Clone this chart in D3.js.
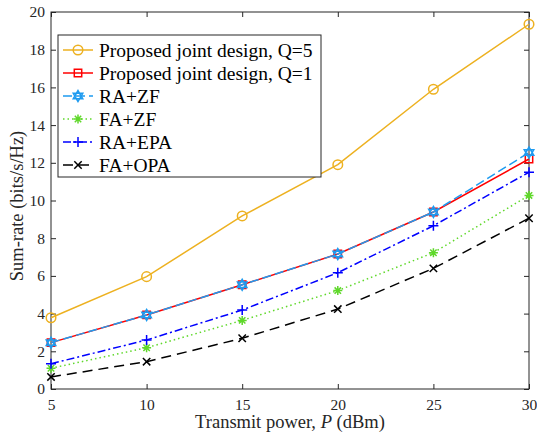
<!DOCTYPE html>
<html lang="en">
<head>
  <meta charset="UTF-8">
  <style>
    body { margin: 0; background: white; }
  </style>
  <title>Sum-rate</title>
  <script src="https://d3js.org/d3.v7.min.js"></script>
</head>
<body>
<svg id="chart"></svg>
<script>

const power = [5, 10, 15, 20, 25, 30];
const jointQ5 = [3.78, 5.96, 9.18, 11.9, 15.9, 19.35];
const jointQ1 = [2.46, 3.93, 5.53, 7.16, 9.39, 12.2];
const raZf = [2.46, 3.93, 5.53, 7.16, 9.39, 12.54];
const faZf = [1.1, 2.19, 3.64, 5.22, 7.23, 10.27];
const raEpa = [1.34, 2.6, 4.19, 6.17, 8.66, 11.5];
const faOpa = [0.64, 1.45, 2.69, 4.24, 6.4, 9.06];
const xTicks = [5, 10, 15, 20, 25, 30];
const yTicks = [0, 2, 4, 6, 8, 10, 12, 14, 16, 18, 20];

const series = [
  {name: 'Proposed joint design, Q=5', values: jointQ5, color: '#EDB120', dash: null, marker: 'circle'},
  {name: 'Proposed joint design, Q=1', values: jointQ1, color: '#FF0000', dash: null, marker: 'square'},
  {name: 'RA+ZF', values: raZf, color: '#1E9BF0', dash: '9,4', marker: 'hexagram'},
  {name: 'FA+ZF', values: faZf, color: '#5FD82A', dash: '1.5,3', marker: 'asterisk'},
  {name: 'RA+EPA', values: raEpa, color: '#0000FF', dash: '8,3,2,3', marker: 'plus'},
  {name: 'FA+OPA', values: faOpa, color: '#000000', dash: '10,6', marker: 'cross'}
];

const serif = '"Liberation Serif", "Times New Roman", Times, serif';
const size = {width: 537, height: 432};
const margin = {top: 12, right: 8, bottom: 43, left: 51};

const svg = d3.select('#chart')
              .attr('width', size.width)
              .attr('height', size.height)
              .style('font-family', serif);

const xScale = d3.scaleLinear()
                 .domain([5, 30])
                 .range([margin.left, size.width - margin.right]);
const yScale = d3.scaleLinear()
                 .domain([0, 20])
                 .range([size.height - margin.bottom, margin.top]);

const axisColor = '#262626';

function styleAxis(g, hideText) {
  g.attr('font-family', null).attr('font-size', null);
  g.select('.domain').remove();
  g.selectAll('.tick line').attr('stroke', axisColor);
  g.selectAll('.tick text')
   .style('font-family', serif)
   .style('font-size', '15.5px')
   .attr('fill', axisColor);
  if (hideText) g.selectAll('.tick text').remove();
}

// axes with inward ticks on all four sides
svg.append('g')
   .attr('transform', 'translate(0,' + yScale(0) + ')')
   .call(d3.axisBottom(xScale).tickValues(xTicks).tickSize(-5).tickPadding(10).tickFormat(d3.format('d')))
   .call(g => styleAxis(g, false));
svg.append('g')
   .attr('transform', 'translate(0,' + yScale(20) + ')')
   .call(d3.axisTop(xScale).tickValues(xTicks).tickSize(-5))
   .call(g => styleAxis(g, true));
svg.append('g')
   .attr('transform', 'translate(' + xScale(5) + ',0)')
   .call(d3.axisLeft(yScale).tickValues(yTicks).tickSize(-5).tickPadding(6).tickFormat(d3.format('d')))
   .call(g => styleAxis(g, false));
svg.append('g')
   .attr('transform', 'translate(' + xScale(30) + ',0)')
   .call(d3.axisRight(yScale).tickValues(yTicks).tickSize(-5))
   .call(g => styleAxis(g, true));

svg.append('rect')
   .attr('x', xScale(5)).attr('y', yScale(20))
   .attr('width', xScale(30) - xScale(5))
   .attr('height', yScale(0) - yScale(20))
   .attr('fill', 'none').attr('stroke', axisColor).attr('stroke-width', 1);

// axis labels
const xLabel = svg.append('text')
   .attr('x', 290)
   .attr('y', 428)
   .attr('text-anchor', 'middle')
   .attr('fill', axisColor)
   .style('font-family', serif)
   .style('font-size', '18.5px');
xLabel.append('tspan').text('Transmit power, ');
xLabel.append('tspan').style('font-style', 'italic').text('P');
xLabel.append('tspan').text(' (dBm)');

svg.append('text')
   .attr('transform', 'translate(23,206) rotate(-90)')
   .attr('text-anchor', 'middle')
   .attr('fill', axisColor)
   .style('font-family', serif)
   .style('font-size', '18.5px')
   .text('Sum-rate (bits/s/Hz)');

function markerPath(type) {
  if (type === 'circle') return d3.symbol(d3.symbolCircle, 72)();
  if (type === 'square') return 'M-3.7,-3.7H3.7V3.7H-3.7Z';
  if (type === 'plus') return 'M-5,0H5M0,-5V5';
  if (type === 'cross') return 'M-3.7,-3.7L3.7,3.7M-3.7,3.7L3.7,-3.7';
  if (type === 'asterisk') return 'M-4.5,0H4.5M0,-4.5V4.5M-3.2,-3.2L3.2,3.2M-3.2,3.2L3.2,-3.2';
  if (type === 'hexagram') {
    const r = 5.5;
    const t1 = d3.range(3).map(i => {
      const a = -Math.PI / 2 + i * 2 * Math.PI / 3;
      return [r * Math.cos(a), r * Math.sin(a)];
    });
    const t2 = d3.range(3).map(i => {
      const a = Math.PI / 2 + i * 2 * Math.PI / 3;
      return [r * Math.cos(a), r * Math.sin(a)];
    });
    return 'M' + t1.join('L') + 'Z' + 'M' + t2.join('L') + 'Z';
  }
}

const line = d3.line()
               .x((d, i) => xScale(power[i]))
               .y(d => yScale(d));

const groups = svg.selectAll('.series')
                  .data(series)
                  .enter()
                  .append('g')
                  .attr('class', 'series');

groups.append('path')
      .attr('d', d => line(d.values))
      .attr('fill', 'none')
      .attr('stroke', d => d.color)
      .attr('stroke-width', 1.5)
      .attr('stroke-dasharray', d => d.dash);

groups.each(function(s) {
  d3.select(this).selectAll('.mark')
    .data(s.values)
    .enter()
    .append('path')
    .attr('class', 'mark')
    .attr('transform', (d, i) => 'translate(' + xScale(power[i]) + ',' + yScale(d) + ')')
    .attr('d', markerPath(s.marker))
    .attr('fill', 'none')
    .attr('stroke', s.color)
    .attr('stroke-width', 1.5);
});

// legend
const legendBox = {x: 58, y: 35, width: 263, height: 142};
const legend = svg.append('g');
legend.append('rect')
      .attr('x', legendBox.x).attr('y', legendBox.y)
      .attr('width', legendBox.width).attr('height', legendBox.height)
      .attr('fill', 'white').attr('stroke', axisColor).attr('stroke-width', 1);

const rowScale = d3.scalePoint()
                   .domain(series.map(d => d.name))
                   .range([legendBox.y + 15, legendBox.y + 130]);

const rows = legend.selectAll('.row')
                   .data(series)
                   .enter()
                   .append('g')
                   .attr('class', 'row')
                   .attr('transform', d => 'translate(0,' + rowScale(d.name) + ')');

rows.append('line')
    .attr('x1', 63).attr('x2', 93)
    .attr('stroke', d => d.color)
    .attr('stroke-width', 1.5)
    .attr('stroke-dasharray', d => d.dash);
rows.append('path')
    .attr('transform', 'translate(78,0)')
    .attr('d', d => markerPath(d.marker))
    .attr('fill', 'none')
    .attr('stroke', d => d.color)
    .attr('stroke-width', 1.5);
rows.append('text')
    .attr('x', 99)
    .attr('dy', '0.35em')
    .attr('fill', '#000')
    .style('font-family', serif)
    .style('font-size', '19.5px')
    .text(d => d.name);

</script>
</body>
</html>
